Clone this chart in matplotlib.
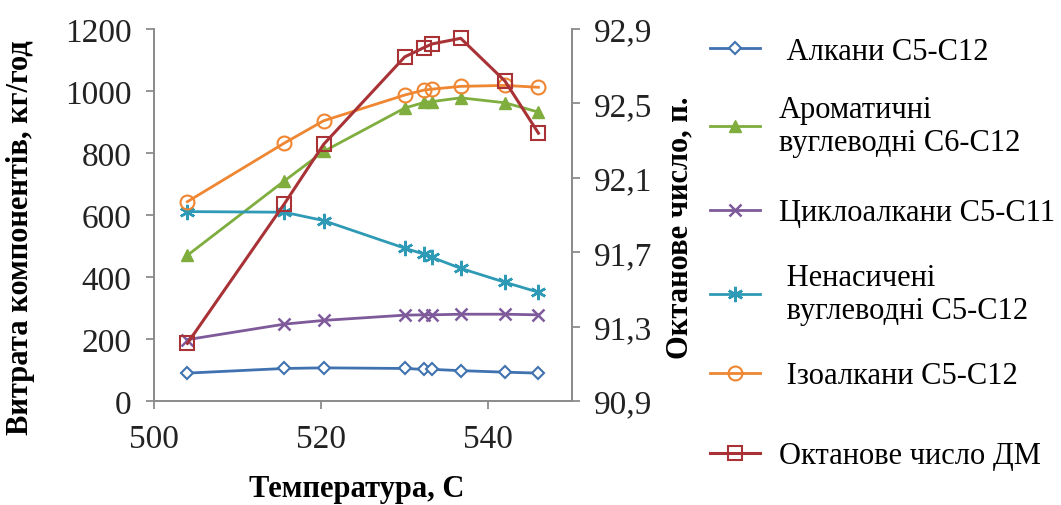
import numpy as np
import matplotlib.pyplot as plt
from matplotlib.ticker import FixedLocator, FuncFormatter

plt.rcParams['font.family'] = ['Liberation Serif', 'DejaVu Serif']

# data
temp = [504, 515.6, 520.3, 530, 532.3, 533.3, 536.7, 542, 546]
alkany = [90, 105, 107, 105, 102, 102, 98, 93, 90]
aromaty = [470, 710, 805, 945, 963, 966, 978, 962, 932]
cykloalkany = [198, 248, 260, 277, 278, 278, 280, 280, 278]
nenasycheni = [611, 609, 582, 493, 474, 463, 428, 383, 351]
izoalkany = [643, 832, 904, 987, 1003, 1006, 1015, 1018, 1012]
oktan = [91.21, 91.96, 92.28, 92.75, 92.80, 92.82, 92.85, 92.62, 92.34]

labels = [' Алкани C5-C12',
          'Ароматичні\nвуглеводні C6-C12',
          'Циклоалкани C5-C11',
          ' Ненасичені\n вуглеводні C5-C12',
          ' Ізоалкани C5-C12',
          'Октанове число ДМ']
left_ticks = [0, 200, 400, 600, 800, 1000, 1200]
right_ticks = [90.9, 91.3, 91.7, 92.1, 92.5, 92.9]
x_ticks = [500, 520, 540]

fig = plt.figure(figsize=(10.61, 5.06), dpi=100)
ax = fig.add_axes([0.1451, 0.2055, 0.3939, 0.7352])
ax2 = ax.twinx()

lw = 2.0
h1, = ax.plot(temp, alkany, color='#3F72AF', lw=lw, marker='D', ms=6.5,
              mfc='white', mec='#3F72AF', mew=1.5)
h2, = ax.plot(temp, aromaty, color='#7FAE3E', lw=lw, marker='^', ms=9,
              mfc='#7FAE3E', mec='#7FAE3E')
h3, = ax.plot(temp, cykloalkany, color='#7E5A9B', lw=lw, marker='x', ms=9,
              mew=1.8)
h4, = ax.plot(temp, nenasycheni, color='#2E9AB6', lw=lw, marker=(6, 2, 0),
              ms=11, mew=1.8)
h5, = ax.plot(temp, izoalkany, color='#EE8632', lw=lw, marker='o', ms=10,
              mfc='none', mec='#EE8632', mew=1.5)
h6, = ax2.plot(temp, oktan, color='#A83236', lw=2.2, marker='s', ms=10,
               mfc='none', mec='#A83236', mew=1.5)

ax.set_xlim(500, 550)
ax.set_ylim(0, 1200)
ax2.set_ylim(90.9, 92.9)
ax.xaxis.set_major_locator(FixedLocator(x_ticks))
ax.yaxis.set_major_locator(FixedLocator(left_ticks))
ax2.yaxis.set_major_locator(FixedLocator(right_ticks))
ax2.yaxis.set_major_formatter(FuncFormatter(lambda v, p: f'{v:.1f}'.replace('.', ',')))

for a in (ax, ax2):
    for s in a.spines.values():
        s.set_color('#8c8c8c')
        s.set_linewidth(1.3)
    a.spines['top'].set_visible(False)
    a.tick_params(length=6, width=1.3, color='#8c8c8c', labelsize=24,
                  pad=10, labelcolor='#222222')

fig.text(0.019, 0.53, 'Витрата компонентів, кг/год', rotation=90,
         ha='center', va='center', fontsize=22, fontweight='bold')
fig.text(0.641, 0.55, 'Октанове число, п.', rotation=90,
         ha='center', va='center', fontsize=22, fontweight='bold')
fig.text(0.3365, 0.032, 'Температура, С', ha='center', va='center',
         fontsize=22, fontweight='bold')

# one legend per entry, so the rows keep even spacing like the original
legend_y = [52, 127, 214, 295, 377, 457]  # pixel rows of entry centres
for h, lab, yp in zip([h1, h2, h3, h4, h5, h6], labels, legend_y):
    fig.legend([h], [lab], loc='center left',
               bbox_to_anchor=(0.669, 1 - yp / 506), frameon=False,
               fontsize=22, handlelength=1.65, handletextpad=0.6,
               borderpad=0, borderaxespad=0)

fig.savefig('out.png', dpi=100)
